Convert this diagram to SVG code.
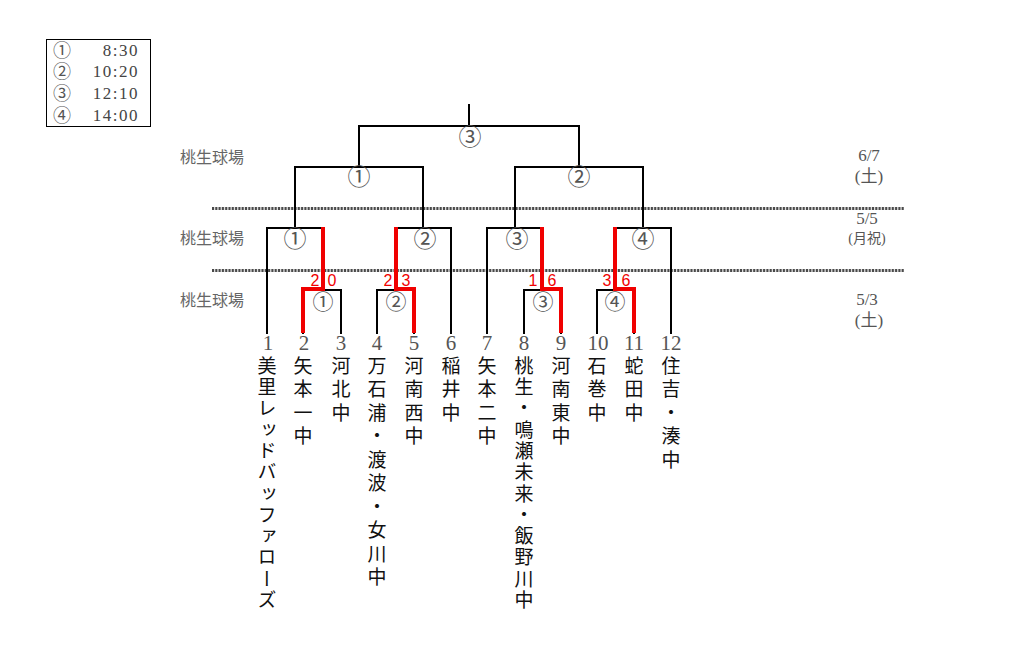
<svg xmlns="http://www.w3.org/2000/svg" width="1015" height="661" viewBox="0 0 1015 661">
<style>
.bl{fill:none;stroke:#000;stroke-width:2;stroke-linecap:square}
.rd{fill:none;stroke:#f00000;stroke-width:4;stroke-linecap:butt}
.dotbg{stroke:#ddd;stroke-width:3}
.dot{stroke:#4a4a4a;stroke-width:3;stroke-dasharray:2 1.3}
.cn{font-family:"Noto Sans CJK JP",sans-serif;font-size:23px;fill:#555;text-anchor:middle}
.cr{font-size:21px}
.cl{font-family:"Noto Sans CJK JP",sans-serif;font-size:18px;fill:#555;text-anchor:middle}
.sc{font-family:"Liberation Sans",sans-serif;font-size:16px;fill:#f00000;text-anchor:middle}
.num{font-family:"Liberation Serif",serif;font-size:21px;fill:#555;text-anchor:middle}
.nm{font-family:"Noto Sans CJK JP",sans-serif;font-size:19px;fill:#111;writing-mode:vertical-rl;letter-spacing:4.5px}
.nl{letter-spacing:2.3px}
.pl{font-family:"Noto Sans CJK JP",sans-serif;font-size:16px;fill:#666}
.dt{font-family:"Liberation Serif","Noto Sans CJK JP",serif;font-size:17px;fill:#555;text-anchor:middle}
.lg{font-family:"Liberation Serif",serif;font-size:17px;fill:#444;text-anchor:end;letter-spacing:1.5px}
</style>
<rect width="1015" height="661" fill="#fff"/>
<g id="legend">
<rect x="46.5" y="39.5" width="104" height="87" fill="none" stroke="#000" stroke-width="1"/>
<text class="cl"><tspan x="62" y="57">①</tspan><tspan x="62" y="78">②</tspan><tspan x="62" y="100">③</tspan><tspan x="62" y="122">④</tspan></text>
<text class="lg"><tspan x="139" y="56">8:30</tspan><tspan x="139" y="77">10:20</tspan><tspan x="139" y="99">12:10</tspan><tspan x="139" y="121">14:00</tspan></text>
</g>
<g id="places">
<text class="pl" x="180" y="163">桃生球場</text>
<text class="pl" x="180" y="244">桃生球場</text>
<text class="pl" x="180" y="306">桃生球場</text>
</g>
<g id="dates">
<text class="dt"><tspan x="869" y="161">6/7</tspan><tspan x="869" y="182">(土)</tspan></text>
<text class="dt"><tspan x="867" y="224">5/5</tspan><tspan x="867" y="243" style="font-size:14px">(月祝)</tspan></text>
<text class="dt"><tspan x="867" y="305">5/3</tspan><tspan x="869" y="326">(土)</tspan></text>
</g>
<g id="dividers">
<line class="dotbg" x1="212" y1="208.5" x2="904" y2="208.5"/>
<line class="dot" x1="212" y1="208.5" x2="904" y2="208.5"/>
<line class="dotbg" x1="212" y1="270.5" x2="904" y2="270.5"/>
<line class="dot" x1="212" y1="270.5" x2="904" y2="270.5"/>
</g>
<g id="connectors">
<path class="bl" d="M469,105 V126 M359,167 V126 H579 V167"/>
<path class="bl" d="M295,228 V167 H423 V228 M515,228 V167 H643 V228"/>
<path class="bl" d="M267,333 V228 H323 M396,228 H451 V333 M487,333 V228 H542 M615,228 H671 V333"/>
<path class="bl" d="M303,333 V290 H341 V333 M377,333 V290 H414 V333 M524,333 V290 H561 V333 M597,333 V290 H634 V333"/>
<path class="rd" d="M303,333 V289 H323 V227"/>
<path class="rd" d="M414,333 V289 H396 V227"/>
<path class="rd" d="M561,333 V289 H542 V227"/>
<path class="rd" d="M634,333 V289 H615 V227"/>
</g>
<g id="match-labels">
<text class="cn" x="470" y="145">③</text>
<text class="cn" x="359" y="185">①</text>
<text class="cn" x="579" y="185">②</text>
<text class="cn" x="295" y="247">①</text>
<text class="cn" x="425" y="247">②</text>
<text class="cn" x="517" y="247">③</text>
<text class="cn" x="643" y="247">④</text>
<text class="cn cr" x="323" y="309">①</text>
<text class="cn cr" x="396" y="309">②</text>
<text class="cn cr" x="543" y="309">③</text>
<text class="cn cr" x="615" y="309">④</text>
</g>
<g id="scores">
<text class="sc" x="315" y="286">2</text><text class="sc" x="332" y="286">0</text>
<text class="sc" x="388" y="286">2</text><text class="sc" x="406" y="286">3</text>
<text class="sc" x="533" y="286">1</text><text class="sc" x="552" y="286">6</text>
<text class="sc" x="607" y="286">3</text><text class="sc" x="626" y="286">6</text>
</g>
<g id="team1"><text class="num" x="268" y="350">1</text><text class="nm nl" x="267" y="356">美里レッドバッファローズ</text></g>
<g id="team2"><text class="num" x="304" y="350">2</text><text class="nm" x="303" y="356">矢本一中</text></g>
<g id="team3"><text class="num" x="341" y="350">3</text><text class="nm" x="341" y="356">河北中</text></g>
<g id="team4"><text class="num" x="377" y="350">4</text><text class="nm" x="377" y="356">万石浦・渡波・女川中</text></g>
<g id="team5"><text class="num" x="414" y="350">5</text><text class="nm" x="414" y="356">河南西中</text></g>
<g id="team6"><text class="num" x="451" y="350">6</text><text class="nm" x="451" y="356">稲井中</text></g>
<g id="team7"><text class="num" x="487" y="350">7</text><text class="nm" x="487" y="356">矢本二中</text></g>
<g id="team8"><text class="num" x="524" y="350">8</text><text class="nm nl" x="524" y="356">桃生・鳴瀬未来・飯野川中</text></g>
<g id="team9"><text class="num" x="561" y="350">9</text><text class="nm" x="561" y="356">河南東中</text></g>
<g id="team10"><text class="num" x="598" y="350">10</text><text class="nm" x="597" y="356">石巻中</text></g>
<g id="team11"><text class="num" x="634" y="350">11</text><text class="nm" x="634" y="356">蛇田中</text></g>
<g id="team12"><text class="num" x="671" y="350">12</text><text class="nm" x="671" y="356">住吉・湊中</text></g>
</svg>
